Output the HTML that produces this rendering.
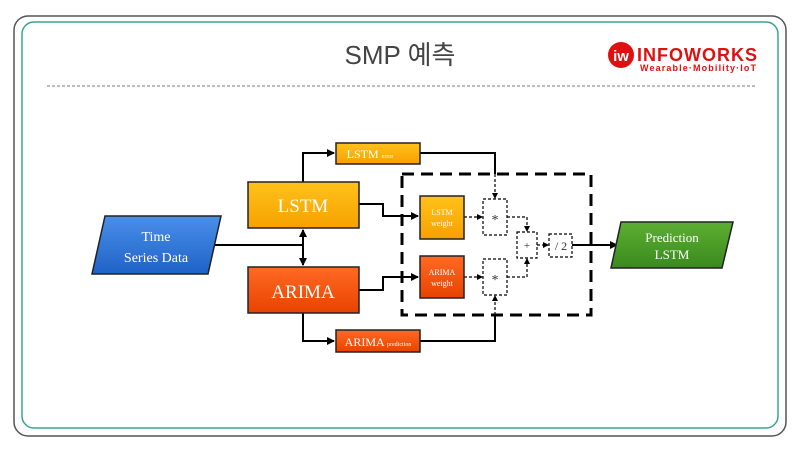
<!DOCTYPE html>
<html><head><meta charset="utf-8"><style>
html,body{margin:0;padding:0;background:#fff;width:800px;height:450px;overflow:hidden}
</style></head><body>
<svg width="800" height="450" viewBox="0 0 800 450" xmlns="http://www.w3.org/2000/svg">
<defs>
<linearGradient id="gy" x1="0" y1="0" x2="0" y2="1"><stop offset="0" stop-color="#ffc21a"/><stop offset="1" stop-color="#f7a100"/></linearGradient>
<linearGradient id="gr" x1="0" y1="0" x2="0" y2="1"><stop offset="0" stop-color="#ff6a24"/><stop offset="1" stop-color="#e84300"/></linearGradient>
<linearGradient id="gb" x1="0" y1="0" x2="0" y2="1"><stop offset="0" stop-color="#4a8fe8"/><stop offset="1" stop-color="#1f62c8"/></linearGradient>
<linearGradient id="gg" x1="0" y1="0" x2="0" y2="1"><stop offset="0" stop-color="#5caf32"/><stop offset="1" stop-color="#3a8a1e"/></linearGradient>
<marker id="a" markerWidth="8" markerHeight="8" refX="7" refY="4" orient="auto" markerUnits="userSpaceOnUse"><path d="M0,0 L8,4 L0,8 z" fill="#000"/></marker>
<marker id="s" markerWidth="6" markerHeight="6" refX="5" refY="3" orient="auto" markerUnits="userSpaceOnUse"><path d="M0,0 L6,3 L0,6 z" fill="#000"/></marker>
</defs>
<rect x="14" y="16" width="772" height="420" rx="14" fill="#fff" stroke="#555" stroke-width="1.5"/>
<rect x="22" y="22" width="756" height="406" rx="12" fill="#fff" stroke="#3aa58f" stroke-width="1.5"/>
<text x="400" y="64" text-anchor="middle" font-family="Liberation Sans, Noto Sans CJK KR, sans-serif" font-size="26" fill="#444">SMP 예측</text>
<line x1="47" y1="86" x2="755" y2="86" stroke="#777" stroke-dasharray="3,2" stroke-width="1"/>
<circle cx="621" cy="55" r="13" fill="#e01010"/>
<text x="621" y="61" text-anchor="middle" font-family="Liberation Sans, sans-serif" font-weight="bold" font-size="15" fill="#fff">iw</text>
<text x="637" y="61" font-family="Liberation Sans, sans-serif" font-weight="bold" font-size="18" fill="#e01010" textLength="120">INFOWORKS</text>
<text x="640" y="71" font-family="Liberation Sans, sans-serif" font-weight="bold" font-size="9" fill="#e01010" textLength="116">Wearable·Mobility·IoT</text>

<g stroke="#000" stroke-width="2" fill="none">
<polyline points="214,245 303,245"/>
<line x1="303" y1="245" x2="303" y2="230" marker-end="url(#a)"/>
<line x1="303" y1="245" x2="303" y2="265" marker-end="url(#a)"/>
<polyline points="303,182 303,153 334,153" marker-end="url(#a)"/>
<polyline points="303,313 303,341 334,341" marker-end="url(#a)"/>
<polyline points="359,204 383,204 383,216 418,216" marker-end="url(#a)"/>
<polyline points="359,290 383,290 383,277 418,277" marker-end="url(#a)"/>
<polyline points="420,153 495,153 495,174"/>
<polyline points="420,341 495,341 495,315"/>
<line x1="572" y1="245" x2="617" y2="245" marker-end="url(#a)"/>
</g>
<rect x="402" y="174" width="189" height="141" fill="none" stroke="#000" stroke-width="3" stroke-dasharray="12,7"/>
<g stroke="#000" stroke-width="1.2" fill="none" stroke-dasharray="3,2">
<line x1="495" y1="174" x2="495" y2="198" marker-end="url(#s)"/>
<line x1="495" y1="315" x2="495" y2="296" marker-end="url(#s)"/>
<line x1="464" y1="217" x2="482" y2="217" marker-end="url(#s)"/>
<line x1="464" y1="277" x2="482" y2="277" marker-end="url(#s)"/>
<polyline points="507,217 527,217 527,231" marker-end="url(#s)"/>
<polyline points="507,277 527,277 527,259" marker-end="url(#s)"/>
<line x1="537" y1="245" x2="548" y2="245" marker-end="url(#s)"/>
<line x1="572" y1="245" x2="591" y2="245"/>
<rect x="483" y="199" width="24" height="36" fill="#fff"/>
<rect x="483" y="259" width="24" height="36" fill="#fff"/>
<rect x="517" y="232" width="20" height="26" fill="#fff"/>
<rect x="549" y="234" width="23" height="23" fill="#fff"/>
</g>
<g font-family="Liberation Serif, serif" fill="#333" text-anchor="middle">
<text x="495" y="224" font-size="14">*</text>
<text x="495" y="284" font-size="14">*</text>
<text x="527" y="249" font-size="11">+</text>
<text x="561" y="250" font-size="12">/ 2</text>
</g>
<g stroke="#222" stroke-width="1.5">
<polygon points="105,216 221,216 208,274 92,274" fill="url(#gb)"/>
<rect x="248" y="182" width="111" height="46" fill="url(#gy)"/>
<rect x="248" y="267" width="111" height="46" fill="url(#gr)"/>
<rect x="336" y="143" width="84" height="21" fill="url(#gy)"/>
<rect x="336" y="330" width="84" height="22" fill="url(#gr)"/>
<rect x="420" y="196" width="44" height="43" fill="url(#gy)"/>
<rect x="420" y="256" width="44" height="42" fill="url(#gr)"/>
<polygon points="621,222 733,222 722,268 611,268" fill="url(#gg)"/>
</g>
<g font-family="Liberation Serif, serif" fill="#fff" text-anchor="middle">
<text x="156" y="241" font-size="14">Time</text>
<text x="156" y="262" font-size="14">Series Data</text>
<text x="303" y="212" font-size="19">LSTM</text>
<text x="303" y="298" font-size="19">ARIMA</text>
<text x="370" y="158" font-size="12">LSTM <tspan font-size="6">error</tspan></text>
<text x="378" y="346" font-size="12">ARIMA <tspan font-size="6">prediction</tspan></text>
<text x="442" y="215" font-size="8">LSTM</text>
<text x="442" y="226" font-size="8">weight</text>
<text x="442" y="275" font-size="8">ARIMA</text>
<text x="442" y="286" font-size="8">weight</text>
<text x="672" y="242" font-size="13">Prediction</text>
<text x="672" y="259" font-size="13">LSTM</text>
</g>
</svg>
</body></html>
